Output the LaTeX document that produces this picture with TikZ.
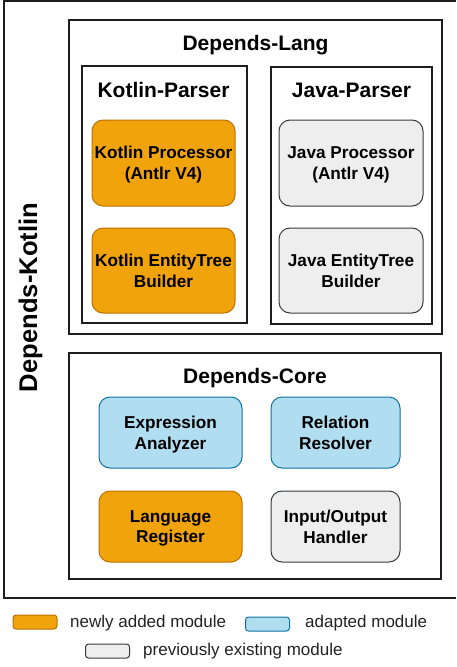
\documentclass[tikz,border=0pt]{standalone}
\usepackage{fontspec}
\setmainfont{Liberation Sans}
\definecolor{orfill}{HTML}{F0A30A}
\definecolor{ordraw}{HTML}{BD7000}
\definecolor{blfill}{HTML}{B1DDF0}
\definecolor{bldraw}{HTML}{10739E}
\definecolor{gyfill}{HTML}{EEEEEE}
\definecolor{gydraw}{HTML}{36393D}
\definecolor{framecol}{HTML}{1E1E1E}
\definecolor{legtext}{HTML}{222222}
\begin{document}
\begin{tikzpicture}[x=1pt,y=-1pt,
  container/.style={draw=framecol, line width=1.3pt, rectangle, inner sep=0pt},
  ctitle/.style={anchor=base, inner sep=0pt, font=\fontsize{21}{25}\selectfont\bfseries},
  module/.style={rectangle, rounded corners=11pt, line width=1pt, inner sep=0pt, align=center,
     text depth=0pt, font=\fontsize{17.2}{20.6}\selectfont\bfseries},
  newmod/.style={module, fill=orfill, draw=ordraw},
  adamod/.style={module, fill=blfill, draw=bldraw},
  oldmod/.style={module, fill=gyfill, draw=gydraw},
  swatch/.style={rectangle, rounded corners=3pt, line width=1pt, inner sep=0pt,
     minimum width=44pt, minimum height=14pt},
  legend/.style={anchor=base west, inner sep=0pt, text=legtext, font=\fontsize{17}{20}\selectfont}
]
\useasboundingbox (0,0) rectangle (456,667);

% outer frame (cropped at top and right)
\coordinate (otr) at (456,1);
\coordinate (obr) at (456,598);
\draw[framecol, line width=1.5pt] (otr) -| (4,598) -- (obr);
\node[rotate=90, anchor=base, inner sep=0pt, font=\fontsize{25.6}{30}\selectfont\bfseries] (dk) at (37,297.5) {Depends-Kotlin};

% Depends-Lang
\node[container, minimum width=373pt, minimum height=314pt] (lang) at (255.5,177) {};
\node[ctitle] (langt) at (255.5,50) {Depends-Lang};

\node[container, minimum width=165pt, minimum height=257pt] (kp) at (164.5,194.5) {};
\node[ctitle] (kpt) at (163.5,97) {Kotlin-Parser};
\node[container, minimum width=161pt, minimum height=257pt] (jp) at (351.5,195.5) {};
\node[ctitle] (jpt) at (351.5,97) {Java-Parser};

\node[newmod, minimum width=143pt, minimum height=86pt] (kproc) at (163.5,163) {Kotlin Processor\\(Antlr V4)};
\node[newmod, minimum width=143pt, minimum height=85pt] (ketb) at (163.5,270.5) {Kotlin EntityTree\\Builder};
\node[oldmod, minimum width=144pt, minimum height=86pt] (jproc) at (351,163) {Java Processor\\(Antlr V4)};
\node[oldmod, minimum width=144pt, minimum height=85pt] (jetb) at (351,270.5) {Java EntityTree\\Builder};

% Depends-Core
\node[container, minimum width=372pt, minimum height=226pt] (core) at (255,466) {};
\node[ctitle] (coret) at (255,383) {Depends-Core};

\node[adamod, minimum width=143pt, minimum height=71pt] (expr) at (170.5,432.5) {Expression\\Analyzer};
\node[adamod, minimum width=129pt, minimum height=71pt] (rel) at (335.5,432.5) {Relation\\Resolver};
\node[newmod, minimum width=143pt, minimum height=71pt] (langreg) at (170.5,526.5) {Language\\Register};
\node[oldmod, minimum width=129pt, minimum height=71pt] (io) at (335.5,526.5) {Input/Output\\Handler};

% legend
\node[swatch, fill=orfill, draw=ordraw] (lgnew) at (35,622) {};
\node[legend] (lgnewt) at (70,627.5) {newly added module};
\node[swatch, fill=blfill, draw=bldraw] (lgada) at (267.5,624) {};
\node[legend] (lgadat) at (305,627.5) {adapted module};
\node[swatch, fill=gyfill, draw=gydraw] (lgold) at (107.5,651) {};
\node[legend] (lgoldt) at (143,655.5) {previously existing module};
\end{tikzpicture}
\end{document}
